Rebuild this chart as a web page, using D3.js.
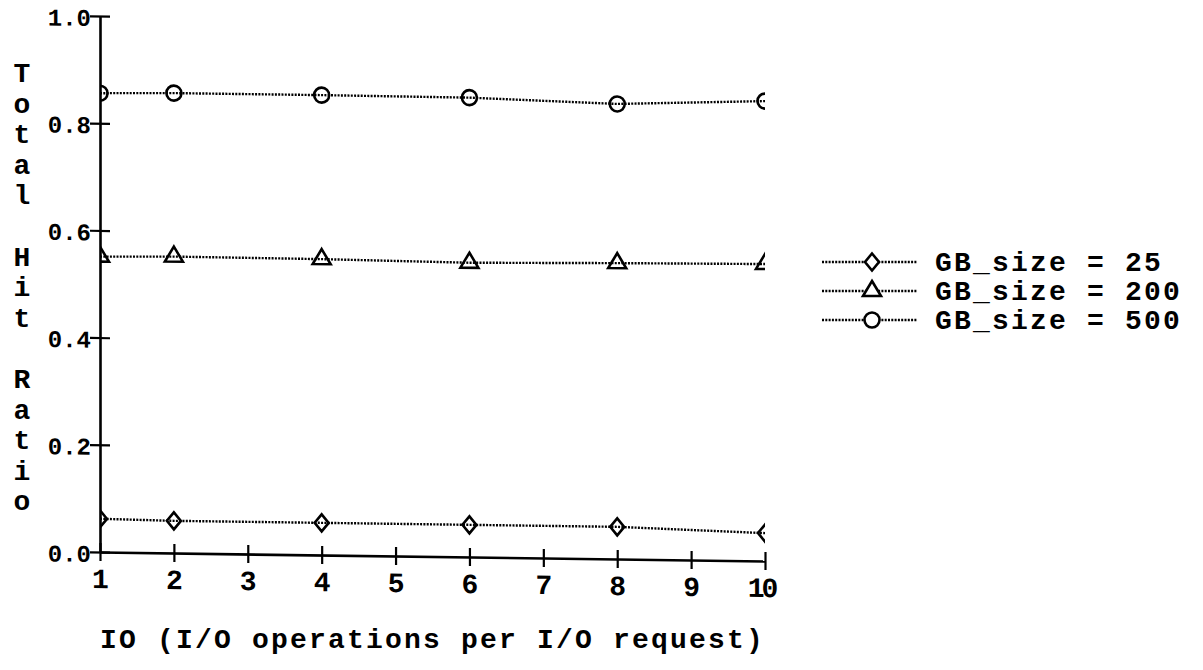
<!DOCTYPE html>
<html>
<head>
<meta charset="utf-8">
<script src="https://cdn.jsdelivr.net/npm/d3@7"></script>
<style>
  html, body { margin: 0; padding: 0; background: #fff; }
  svg { display: block; }
  text { font-family: "Liberation Mono", "Courier New", monospace; font-weight: bold; fill: #000; }
</style>
</head>
<body>
<svg id="chart" width="1203" height="670"></svg>
<script>
// ---- data ----
const ioValues = [1, 2, 4, 6, 8, 10];
const gb25  = [0.062, 0.060, 0.060, 0.060, 0.060, 0.052];
const gb200 = [0.551, 0.553, 0.552, 0.549, 0.552, 0.554];
const gb500 = [0.856, 0.858, 0.858, 0.857, 0.849, 0.858];
const seriesNames = ["GB_size = 25", "GB_size = 200", "GB_size = 500"];
const xTickValues = [1, 2, 3, 4, 5, 6, 7, 8, 9, 10];
const yTickValues = [0.0, 0.2, 0.4, 0.6, 0.8, 1.0];
const xTitle = "IO (I/O operations per I/O request)";
const yTitle = "Total Hit Ratio";

// ---- marker shapes ----
const diamondType = { draw(ctx, size) { const w = 7, h = 8.5;
  ctx.moveTo(0, -h); ctx.lineTo(w, 0); ctx.lineTo(0, h); ctx.lineTo(-w, 0); ctx.closePath(); } };
const triangleType = { draw(ctx, size) {
  ctx.moveTo(0, -10); ctx.lineTo(9, 5); ctx.lineTo(-9, 5); ctx.closePath(); } };
const circleType = { draw(ctx, size) { const r = 7.5;
  ctx.moveTo(r, 0); ctx.arc(0, 0, r, 0, 2 * Math.PI); } };

const series = [
  { name: seriesNames[0], values: gb25,  shape: diamondType },
  { name: seriesNames[1], values: gb200, shape: triangleType },
  { name: seriesNames[2], values: gb500, shape: circleType }
];

const svg = d3.select("#chart");

const x = d3.scaleLinear().domain([1, 10]).range([100, 765]);
const y = d3.scaleLinear().domain([0, 1]).range([552, 16]);

// scanned page is slightly sheared: apply a small skew around the y axis
const skew = Math.atan(9 / 665) * 180 / Math.PI;
const g = svg.append("g")
  .attr("transform", `translate(100,0) skewY(${skew}) translate(-100,0)`);

g.append("defs").append("clipPath").attr("id", "plotclip")
  .append("rect").attr("x", 100).attr("y", 0).attr("width", 665).attr("height", 600);

// x axis
const xAxis = g.append("g").attr("transform", `translate(0,${y(0)})`)
  .call(d3.axisBottom(x).tickValues(xTickValues).tickFormat(d3.format("d"))
    .tickSizeInner(9).tickSizeOuter(0).tickPadding(0));
xAxis.select(".domain").attr("stroke", "#000").attr("stroke-width", 2.6);
xAxis.selectAll(".tick line").attr("y1", -9).attr("y2", 9).attr("stroke", "#000").attr("stroke-width", 2.2);
xAxis.selectAll(".tick text").attr("y", 36).attr("dy", 0)
  .style("font-size", "28px").style("font-family", '"Liberation Mono", monospace').style("font-weight", "bold")
  .attr("fill", "#000")
  .attr("letter-spacing", d => d === 10 ? -3 : 0)
  .attr("dx", d => d === 10 ? -4 : 0);

// y axis
const yAxis = g.append("g").attr("transform", `translate(${x(1)},0)`)
  .call(d3.axisLeft(y).tickValues(yTickValues).tickFormat(d3.format(".1f"))
    .tickSizeInner(10).tickSizeOuter(0).tickPadding(0));
yAxis.select(".domain").attr("stroke", "#000").attr("stroke-width", 2.6);
yAxis.selectAll(".tick line").attr("x1", 10).attr("x2", -10).attr("stroke", "#000").attr("stroke-width", 2.2);
yAxis.selectAll(".tick text").attr("x", -9).attr("dy", "0.4em")
  .style("font-size", "24px").style("font-family", '"Liberation Mono", monospace').style("font-weight", "bold")
  .attr("fill", "#000");

// series
const plot = g.append("g").attr("clip-path", "url(#plotclip)");
const line = d3.line().x((d, i) => x(ioValues[i])).y(d => y(d));
series.forEach(s => {
  plot.append("path").datum(s.values)
    .attr("d", line)
    .attr("fill", "none").attr("stroke", "#000")
    .attr("stroke-width", 2.4).attr("stroke-dasharray", "2 1.3");
  plot.selectAll(null).data(s.values).enter().append("path")
    .attr("d", d3.symbol().type(s.shape))
    .attr("transform", (d, i) => `translate(${x(ioValues[i])},${y(d)})`)
    .attr("fill", "none").attr("stroke", "#000").attr("stroke-width", 2.6);
});

// y title, stacked letters
const yChars = yTitle.split("");
svg.append("g").selectAll("text").data(yChars).enter().append("text")
  .attr("x", 22).attr("y", (d, i) => 82 + i * 30.6)
  .attr("text-anchor", "middle")
  .style("font-size", "28px")
  .text(d => d);

// x title
svg.append("text").attr("x", 100).attr("y", 648)
  .style("font-size", "28px").attr("letter-spacing", 2.2)
  .text(xTitle);

// legend
const legend = svg.append("g");
const legendRows = [262, 291, 320];
series.forEach((s, i) => {
  const row = legend.append("g").attr("transform", `translate(0,${legendRows[i]})`);
  row.append("line").attr("x1", 822).attr("x2", 917).attr("y1", 0).attr("y2", 0)
    .attr("stroke", "#000").attr("stroke-width", 2.4).attr("stroke-dasharray", "2 1.3");
  row.append("path").attr("d", d3.symbol().type(s.shape))
    .attr("transform", "translate(872,0)")
    .attr("fill", "#fff").attr("stroke", "#000").attr("stroke-width", 2.6);
  row.append("text").attr("x", 935).attr("y", 9)
    .style("font-size", "28px").attr("letter-spacing", 2.2)
    .text(s.name);
});
</script>
</body>
</html>
